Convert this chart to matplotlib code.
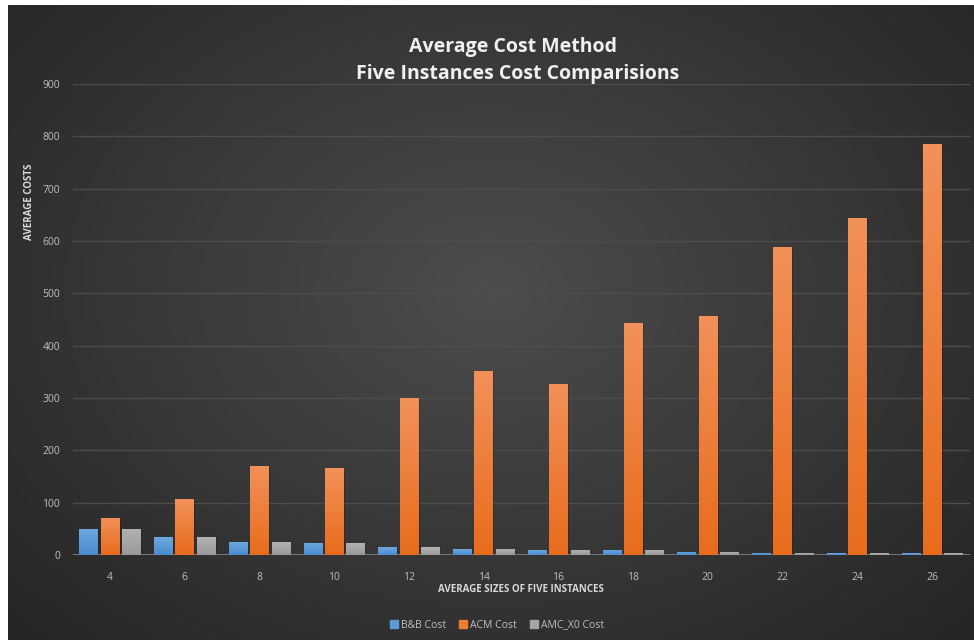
import numpy as np
import matplotlib
matplotlib.use("Agg")
import matplotlib.pyplot as plt
from matplotlib.patches import Rectangle

# Average instance sizes and the cost of each method
sizes = ["4", "6", "8", "10", "12", "14", "16", "18", "20", "22", "24", "26"]
bb_cost = [50, 34, 25, 23, 15, 11, 10, 10, 6, 4, 3, 3]
acm_cost = [71, 107, 170, 166, 300, 352, 327, 443, 457, 589, 644, 785]
amc_x0_cost = [50, 34, 25, 23, 15, 12, 10, 10, 6, 4, 3, 3]

series_names = ["B&B Cost", "ACM Cost", "AMC_X0 Cost"]
y_ticks = [0, 100, 200, 300, 400, 500, 600, 700, 800, 900]

W, H = 974, 640
fig = plt.figure(figsize=(W / 100, H / 100), dpi=100)
fig.patch.set_facecolor("white")

# Dark chart background with a soft radial highlight
bg = fig.add_axes([8 / W, 0, 1 - 8 / W, 1 - 5 / H])
bg.set_axis_off()
yy, xx = np.mgrid[0:1:300j, 0:1:460j]
r = np.sqrt(((xx - 0.5) / 0.75) ** 2 + ((yy - 0.55) / 0.85) ** 2)
shade = np.clip(0.30 - 0.17 * r, 0.14, 0.30)
bg.imshow(np.dstack([shade] * 3), extent=[0, 1, 0, 1], aspect="auto", origin="lower")
bg.set_xlim(0, 1)
bg.set_ylim(0, 1)

# Plot area
x0, x1 = 72.5 / W, 969.5 / W
yb, yt = 1 - 555 / H, 1 - 84 / H
ax = fig.add_axes([x0, yb, x1 - x0, yt - yb])
ax.patch.set_alpha(0)
ax.set_xlim(-0.5, len(sizes) - 0.5)
ax.set_ylim(0, 900)
for s in ax.spines.values():
    s.set_visible(False)
ax.set_yticks(y_ticks)
ax.set_xticks(range(len(sizes)))
ax.set_xticklabels(sizes)
ax.tick_params(length=0, colors="#bfbfbf", labelsize=7.5, pad=12)
ax.tick_params(axis="y", pad=9)
ax.grid(axis="y", color="#4d4d4d", linewidth=1.0)
ax.set_axisbelow(True)
ax.axhline(0, color="#8c8c8c", linewidth=1.8, zorder=3.2)


def gradient_bars(xs, vals, width, top_col, bot_col, label):
    bars = ax.bar(xs, vals, width, color=bot_col, label=label, zorder=3,
                  linewidth=0)
    top = np.array(matplotlib.colors.to_rgb(top_col))
    bot = np.array(matplotlib.colors.to_rgb(bot_col))
    grad = np.linspace(0, 1, 256)[:, None, None]
    img = bot + (top - bot) * grad
    for b in bars:
        x, w, h = b.get_x(), b.get_width(), b.get_height()
        if h > 8:
            # soft drop shadow on the right side
            ax.add_patch(Rectangle((x + 0.02, 0), w, h - 2, color="black",
                                   alpha=0.18, zorder=2.5, linewidth=0))
        im = ax.imshow(img, extent=[x, x + w, 0, h], origin="lower",
                       aspect="auto", zorder=3.5)
        im.set_clip_path(b)
    return bars


idx = np.arange(len(sizes))
bw = 0.245
off = 0.285
gradient_bars(idx - off, bb_cost, bw, "#6fa8dd", "#4a8cd0", series_names[0])
gradient_bars(idx, acm_cost, bw, "#f2915a", "#e86c1c", series_names[1])
gradient_bars(idx + off, amc_x0_cost, bw, "#b3b3b3", "#999999", series_names[2])
ax.set_xlim(-0.5, len(sizes) - 0.5)
ax.set_ylim(0, 900)

font = "Open Sans"
for t in ax.get_xticklabels() + ax.get_yticklabels():
    t.set_fontfamily(font)

fig.text(513 / W, 1 - 47 / H, "Average Cost Method", ha="center",
         va="center", color="#f0f0f0", fontsize=14, fontweight="bold",
         family=font)
fig.text(518 / W, 1 - 74 / H, "Five Instances Cost Comparisions",
         ha="center", va="center", color="#f0f0f0", fontsize=14,
         fontweight="bold", family=font)
fig.text(30 / W, 1 - 202 / H, "AVERAGE COSTS", rotation=90, ha="center",
         va="center", color="#d9d9d9", fontsize=7, fontweight="bold",
         family=font)
fig.text(521 / W, 1 - 589 / H, "AVERAGE SIZES OF FIVE INSTANCES",
         ha="center", va="center", color="#d9d9d9", fontsize=7,
         fontweight="bold", family=font)

handles = [Rectangle((0, 0), 1, 1, color=c) for c in ("#5b9bd5", "#ed7d31", "#a5a5a5")]
leg = fig.legend(handles, series_names, loc="center", ncol=3,
                 bbox_to_anchor=(497 / W, 1 - 625 / H), frameon=False,
                 handlelength=0.8, handleheight=0.8, handletextpad=0.3,
                 columnspacing=1.2, prop={"family": font, "size": 7.5})
for t in leg.get_texts():
    t.set_color("#bfbfbf")

fig.savefig("out.png", dpi=100, facecolor=fig.get_facecolor())
